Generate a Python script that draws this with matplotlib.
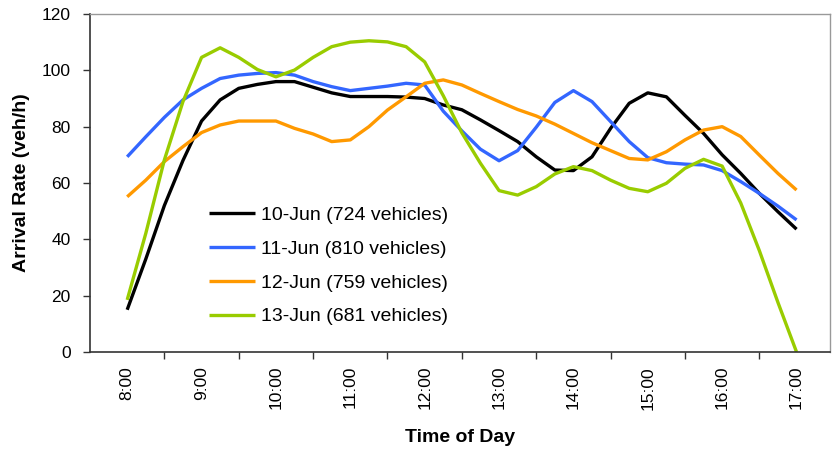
import numpy as np
import matplotlib
matplotlib.use("Agg")
import matplotlib.pyplot as plt

plt.rcParams['font.family'] = ['Liberation Sans', 'DejaVu Sans']

# arrival rates sampled every 15 minutes, 8:00 - 17:00
times = 8 + 0.25 * np.arange(37)
hour_labels = ["8:00", "9:00", "10:00", "11:00", "12:00", "13:00",
               "14:00", "15:00", "16:00", "17:00"]

jun10 = [15, 33, 52, 68, 82, 89.5, 93.6, 95, 96, 96,
         94, 92, 90.7, 90.7, 90.7, 90.5, 90, 87.7, 86, 82.4,
         78.6, 74.7, 69.3, 64.6, 64.4, 69.3, 79.4, 88.3, 92, 90.6,
         84, 77.6, 70, 63.4, 56.3, 49.8, 43.6]
jun11 = [69.3, 76.4, 83.3, 89.5, 93.6, 97.1, 98.3, 98.9, 99.2, 98.3,
         96, 94.2, 92.8, 93.6, 94.4, 95.4, 94.8, 85.5, 78.5, 72,
         67.9, 71.5, 79.8, 88.6, 92.8, 88.9, 81.8, 74.7, 69, 67.2,
         66.7, 66.4, 64.4, 60.5, 56.3, 51.8, 46.9]
jun12 = [55.1, 61, 67.6, 72.9, 77.9, 80.6, 82, 82, 82, 79.4,
         77.4, 74.7, 75.3, 80, 85.9, 90.6, 95.4, 96.6, 94.8, 91.8,
         88.9, 86.1, 83.8, 80.9, 77.6, 74.3, 71.5, 68.7, 68.2, 71.1,
         75.3, 78.8, 80, 76.5, 69.9, 63.4, 57.5]
jun13 = [18.5, 42.1, 68.2, 88.9, 104.6, 108, 104.6, 100.3, 97.7, 100.1,
         104.6, 108.4, 110, 110.5, 110.1, 108.4, 103, 91, 77.8, 67,
         57.3, 55.7, 58.7, 63.2, 65.8, 64.4, 61, 58.1, 56.9, 59.9,
         65.2, 68.4, 66, 52.9, 36, 17.6, 0]

series = [
    (jun10, "10-Jun (724 vehicles)", "#000000"),
    (jun11, "11-Jun (810 vehicles)", "#3366FF"),
    (jun12, "12-Jun (759 vehicles)", "#FF9900"),
    (jun13, "13-Jun (681 vehicles)", "#99CC00"),
]

fig = plt.figure(figsize=(8.32, 4.51), dpi=100)
ax = fig.add_axes([90/832, 1 - 352/451, 740/832, 338/451])

for vals, label, color in series:
    ax.plot(times, vals, color=color, lw=2.4, label=label,
            solid_joinstyle='round', solid_capstyle='butt')

ax.set_xlim(7.5, 17.45)
ax.set_ylim(0, 120)
ax.set_yticks(np.arange(0, 121, 20))

# hour labels centred, tick marks between them
ax.set_xticks(np.arange(8, 18))
ax.set_xticklabels(hour_labels, rotation=90, va='top')
ax.set_xticks(np.arange(8.5, 17.5, 1), minor=True)
ax.tick_params(axis='x', which='major', length=0, pad=10, labelsize=12.5)
ax.tick_params(axis='x', which='minor', length=5, width=1, direction='out', color='#333333')
ax.tick_params(axis='y', length=5, width=1, direction='out', pad=9, labelsize=12.5, color='#333333')

for side in ('left', 'bottom'):
    ax.spines[side].set_color('#333333')
    ax.spines[side].set_linewidth(1.2)
for side in ('top', 'right'):
    ax.spines[side].set_color('#999999')
    ax.spines[side].set_linewidth(1.0)

ax.set_ylabel("Arrival Rate (veh/h)", fontsize=14, fontweight='bold')
ax.set_xlabel("Time of Day", fontsize=14, fontweight='bold')
ax.yaxis.set_label_coords(-0.092, 0.5)
ax.xaxis.set_label_coords(0.5, -0.2515)
ax.xaxis.label.set_va('center')
ax.yaxis.label.set_va('center')

ax.legend(loc='upper left', bbox_to_anchor=(209/832, 1 - 206/451),
          bbox_transform=fig.transFigure, frameon=False, fontsize=14,
          handlelength=2.37, handletextpad=0.3, labelspacing=0.84,
          borderpad=0, borderaxespad=0)

fig.savefig("out.png", dpi=100)
